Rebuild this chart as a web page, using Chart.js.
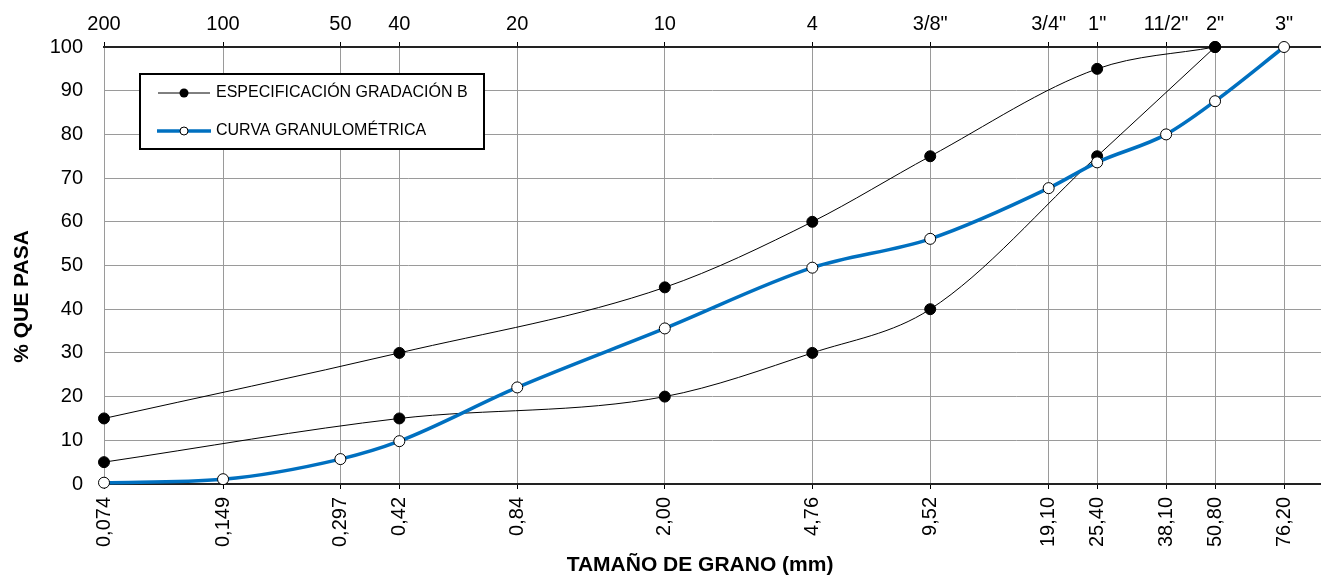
<!DOCTYPE html>
<html>
<head>
<meta charset="utf-8">
<script src="https://cdn.jsdelivr.net/npm/chart.js@4.4.1/dist/chart.umd.min.js"></script>
<style>
  body { margin: 0; background: #fff; }
  #wrap { width: 1321px; height: 578px; position: relative; }
</style>
</head>
<body>
<div id="wrap"><canvas id="chart"></canvas></div>
<script>
// sieve openings (mm) and labels
const sizes = [0.074, 0.149, 0.297, 0.42, 0.84, 2.00, 4.76, 9.52, 19.10, 25.40, 38.10, 50.80, 76.20];
const sizeLabels = ['0,074', '0,149', '0,297', '0,42', '0,84', '2,00', '4,76', '9,52', '19,10', '25,40', '38,10', '50,80', '76,20'];
const sieveLabels = ['200', '100', '50', '40', '20', '10', '4', '3/8"', '3/4"', '1"', '11/2"', '2"', '3"'];

// gradation B limits
const specSizes = [0.074, 0.42, 2.00, 4.76, 9.52, 25.40, 50.80];
const specUpper = [15, 30, 45, 60, 75, 95, 100];
const specLower = [5, 15, 20, 30, 40, 75, 100];

// measured grading curve
const curvePass = [0.3, 1.1, 5.7, 9.8, 22.1, 35.6, 49.5, 56.1, 67.7, 73.6, 80, 87.6, 100];

const FONT = 'Liberation Sans, Arial, sans-serif';
const BLUE = '#0070C0';
const GRID = '#9a9a9a';

function pts(xs, ys) {
  return xs.map((x, i) => ({ x: x, y: ys[i] }));
}

const legendBox = {
  id: 'legendBox',
  afterDraw(chart) {
    const ctx = chart.ctx;
    const a = chart.chartArea;
    const x0 = a.left + 36, y0 = a.top + 27;
    ctx.save();
    ctx.fillStyle = '#fff';
    ctx.fillRect(x0, y0, 344, 75);
    ctx.strokeStyle = '#000';
    ctx.lineWidth = 2;
    ctx.strokeRect(x0, y0, 344, 75);

    // row 1
    let ry = y0 + 19;
    ctx.lineWidth = 1;
    ctx.beginPath(); ctx.moveTo(x0 + 18, ry); ctx.lineTo(x0 + 70, ry); ctx.stroke();
    ctx.fillStyle = '#000';
    ctx.beginPath(); ctx.arc(x0 + 44, ry, 4.5, 0, Math.PI * 2); ctx.fill();
    ctx.font = '16px ' + FONT;
    ctx.textBaseline = 'middle';
    ctx.fillText('ESPECIFICACIÓN GRADACIÓN B', x0 + 76, ry);

    // row 2
    ry = y0 + 57;
    ctx.strokeStyle = BLUE;
    ctx.lineWidth = 3.5;
    ctx.beginPath(); ctx.moveTo(x0 + 17, ry); ctx.lineTo(x0 + 71, ry); ctx.stroke();
    ctx.fillStyle = '#fff';
    ctx.strokeStyle = '#000';
    ctx.lineWidth = 1;
    ctx.beginPath(); ctx.arc(x0 + 44, ry, 4, 0, Math.PI * 2); ctx.fill(); ctx.stroke();
    ctx.fillStyle = '#000';
    ctx.fillText('CURVA GRANULOMÉTRICA', x0 + 76, ry);
    ctx.restore();
  }
};

const axisTitles = {
  id: 'axisTitles',
  afterDraw(chart) {
    const ctx = chart.ctx;
    const x = chart.scales.x;
    const a = chart.chartArea;
    ctx.save();
    ctx.fillStyle = '#000';
    ctx.font = 'bold 21px ' + FONT;
    ctx.textAlign = 'center';
    ctx.textBaseline = 'middle';
    const cx = (a.left + x.getPixelForValue(sizes[sizes.length - 1])) / 2 + 6;
    ctx.fillText('TAMAÑO DE GRANO (mm)', cx, 565);
    ctx.translate(22, (a.top + a.bottom) / 2 + 31);
    ctx.rotate(-Math.PI / 2);
    ctx.fillText('% QUE PASA', 0, 0);
    ctx.restore();
  }
};

function setSieveTicks(scale) {
  scale.ticks = sizes.map(v => ({ value: v }));
}

function fitX(h) {
  return function (scale) {
    scale.height = h;
    scale.paddingLeft = 0;
    scale.paddingRight = 0;
  };
}

new Chart(document.getElementById('chart'), {
  type: 'line',
  data: {
    datasets: [
      {
        label: 'CURVA GRANULOMÉTRICA',
        data: pts(sizes, curvePass),
        borderColor: BLUE,
        borderWidth: 3.5,
        pointRadius: 5.5,
        pointBackgroundColor: '#fff',
        pointBorderColor: '#000',
        pointBorderWidth: 1,
        cubicInterpolationMode: 'monotone',
        clip: false,
        order: 0
      },
      {
        label: 'ESPECIFICACIÓN GRADACIÓN B',
        data: pts(specSizes, specUpper),
        borderColor: '#000',
        borderWidth: 1,
        pointRadius: 5.5,
        pointBackgroundColor: '#000',
        pointBorderColor: '#000',
        cubicInterpolationMode: 'monotone',
        clip: false,
        order: 1
      },
      {
        label: 'ESPECIFICACIÓN GRADACIÓN B (inf)',
        data: pts(specSizes, specLower),
        borderColor: '#000',
        borderWidth: 1,
        pointRadius: 5.5,
        pointBackgroundColor: '#000',
        pointBorderColor: '#000',
        cubicInterpolationMode: 'monotone',
        clip: false,
        order: 1
      }
    ]
  },
  options: {
    responsive: true,
    maintainAspectRatio: false,
    animation: false,
    layout: { padding: 0, autoPadding: false },
    plugins: {
      legend: { display: false },
      tooltip: { enabled: false }
    },
    scales: {
      x: {
        type: 'logarithmic',
        position: 'bottom',
        min: 0.074,
        max: 94.7,
        afterBuildTicks: setSieveTicks,
        afterFit: fitX(94),
        grid: { color: GRID, lineWidth: 1, tickColor: '#000', tickLength: 5 },
        border: { color: '#222', width: 2 },
        ticks: {
          color: '#000',
          font: { family: FONT, size: 20 },
          minRotation: 90,
          maxRotation: 90,
          padding: 8,
          autoSkip: false,
          callback: (v, i) => sizeLabels[i]
        }
      },
      xTop: {
        type: 'logarithmic',
        position: 'top',
        min: 0.074,
        max: 94.7,
        afterBuildTicks: setSieveTicks,
        afterFit: fitX(47),
        grid: { drawOnChartArea: false, tickColor: '#000', tickLength: 5 },
        border: { color: '#222', width: 2 },
        ticks: {
          color: '#000',
          font: { family: FONT, size: 20 },
          maxRotation: 0,
          padding: 6,
          autoSkip: false,
          callback: (v, i) => sieveLabels[i]
        }
      },
      y: {
        min: 0,
        max: 100,
        afterFit(scale) { scale.width = 104; },
        grid: { color: GRID, lineWidth: 1, drawTicks: false },
        border: { display: false },
        ticks: {
          stepSize: 10,
          color: '#000',
          font: { family: FONT, size: 20 },
          padding: 21
        }
      }
    }
  },
  plugins: [legendBox, axisTitles]
});
</script>
</body>
</html>
